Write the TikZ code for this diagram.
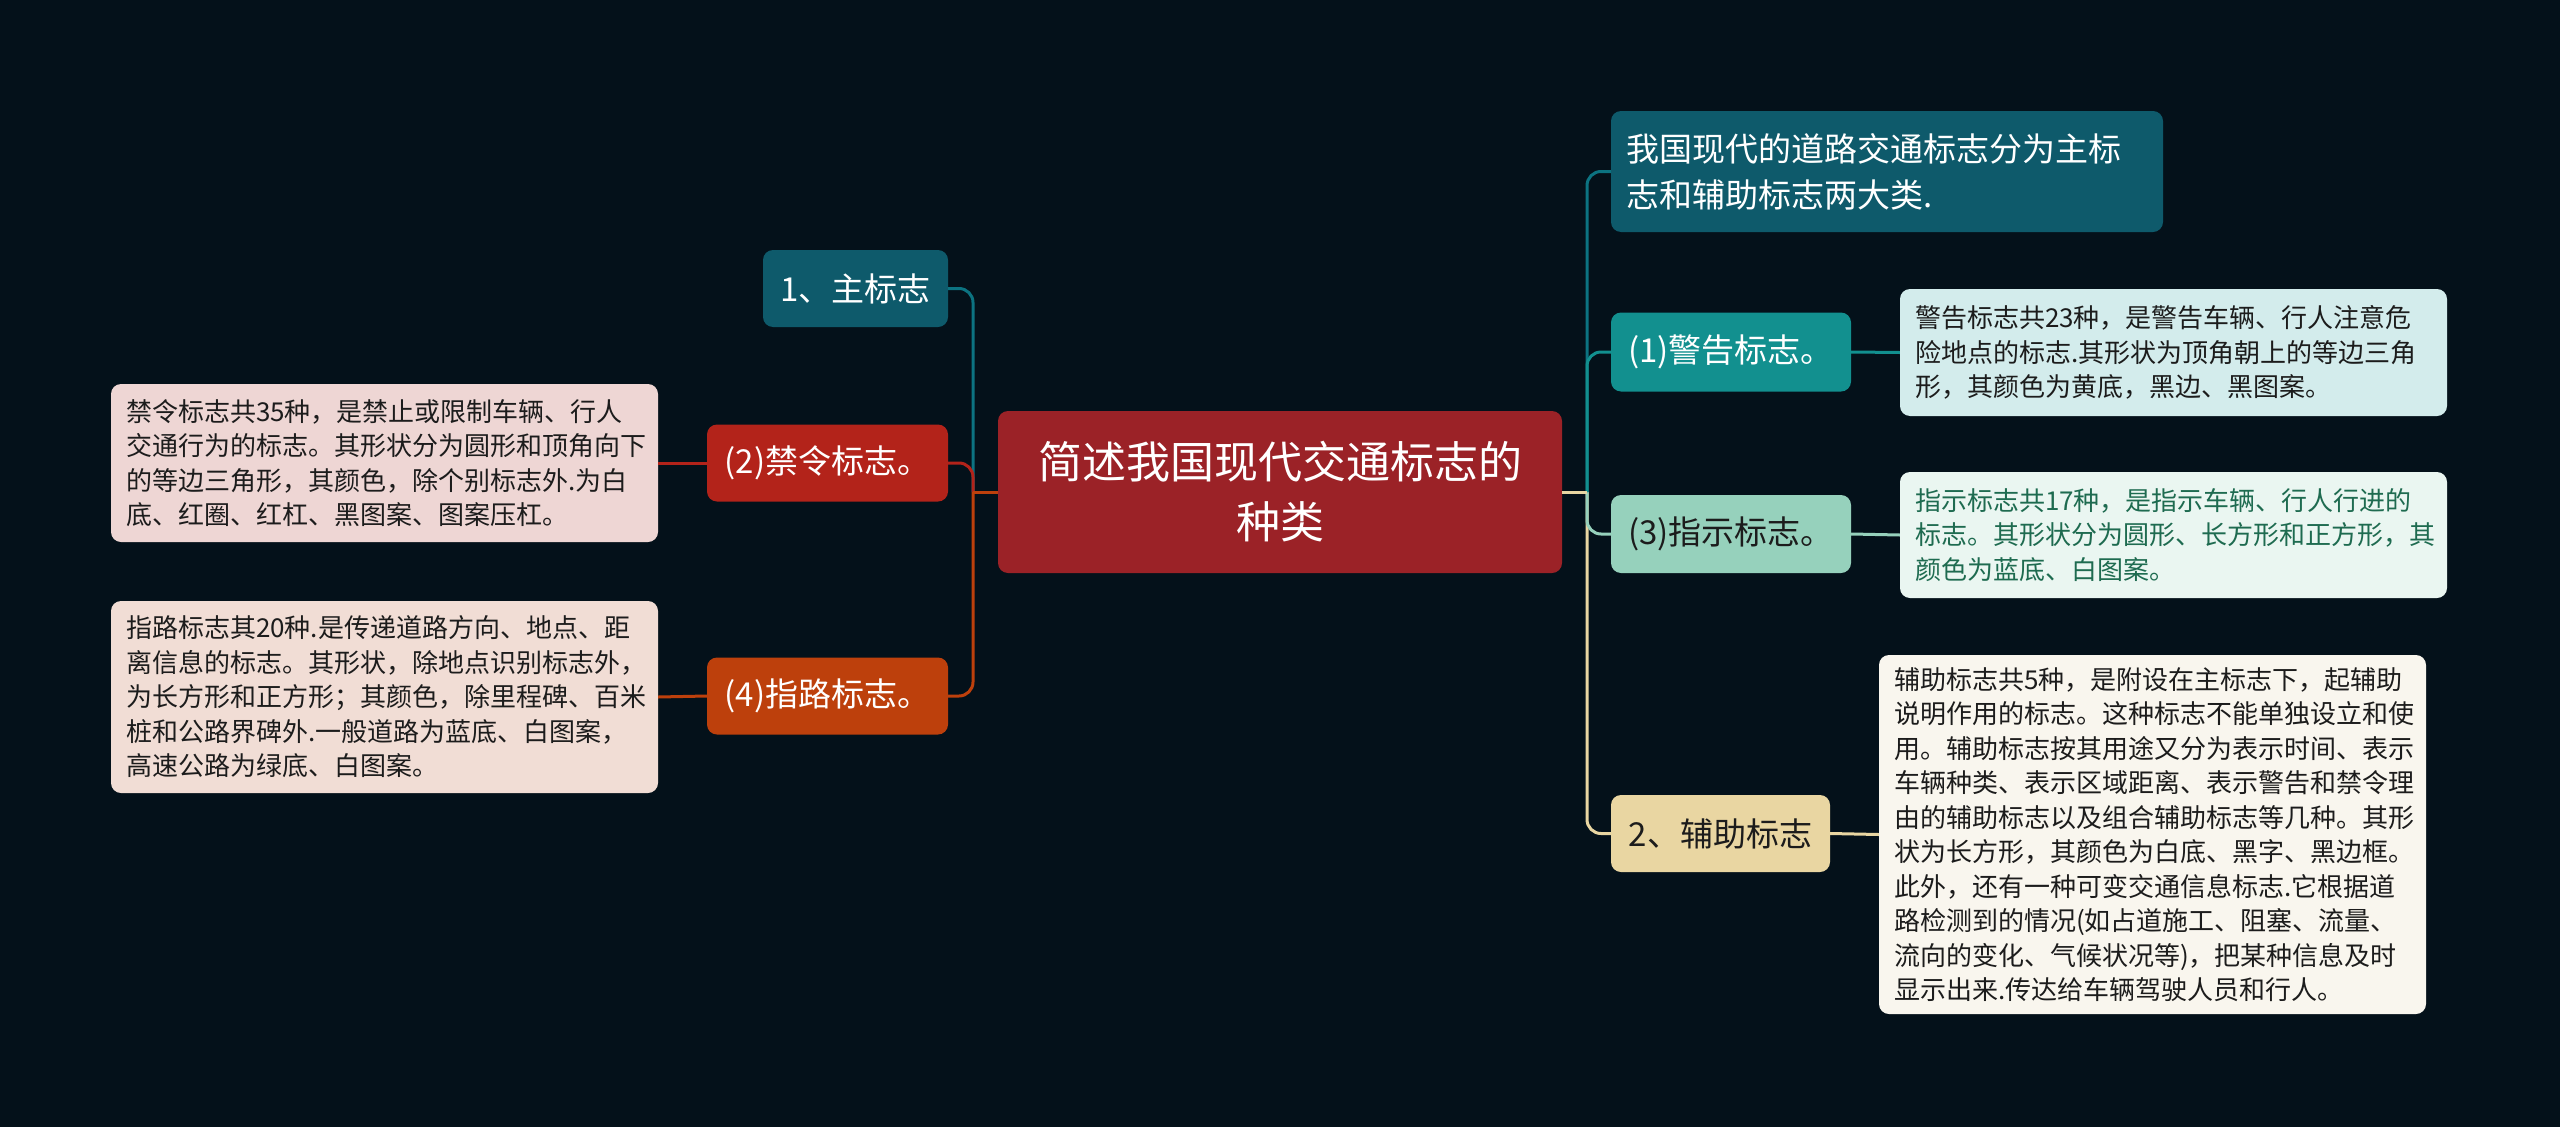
\documentclass[tikz,border=0pt]{standalone}
\usepackage{fontspec}
\setmainfont{Noto Sans CJK SC}
\definecolor{bg}{HTML}{04111A}
\definecolor{cRoot}{HTML}{9B2227}
\definecolor{cMain}{HTML}{0E5A6B}
\definecolor{cJG}{HTML}{12908F}
\definecolor{cZS}{HTML}{96D1BC}
\definecolor{cFZ}{HTML}{E9D6A2}
\definecolor{cJL}{HTML}{B3231A}
\definecolor{cZL}{HTML}{BD400C}
\definecolor{dJL}{HTML}{EED6D4}
\definecolor{dZL}{HTML}{F1DDD5}
\definecolor{dJG}{HTML}{D3ECEC}
\definecolor{dZS}{HTML}{EAF6F1}
\definecolor{dFZ}{HTML}{F9F6EE}
\definecolor{tDark}{HTML}{1C1C1C}
\definecolor{tGreen}{HTML}{1E6B50}
\begin{document}
\begin{tikzpicture}[x=1pt,y=-1pt,
  box/.style={rounded corners=10pt, inner sep=0pt, align=center, text=white},
  lone/.style={box, font=\fontsize{33pt}{46pt}\selectfont, minimum height=77pt},
  det/.style={rounded corners=10pt, font=\fontsize{26pt}{34.5pt}\selectfont, text width=517pt, align=left, inner xsep=15pt, inner ysep=0pt, text=tDark},
  conn/.style={line width=3pt, rounded corners=14pt}]
\fill[bg] (0,0) rectangle (2560,1127);
\useasboundingbox (0,0) rectangle (2560,1127);

% root
\node[box, fill=cRoot, minimum width=564pt, minimum height=162pt, font=\fontsize{44pt}{60pt}\selectfont] (root) at (1280,492) {简述我国现代交通标志的\\种类};

% left level
\node[lone, fill=cMain, minimum width=185pt] (main1) at (855.5,288.5) {1、主标志};
\node[lone, fill=cJL, minimum width=241pt] (jinling) at (827.5,463) {(2)禁令标志。};
\node[lone, fill=cZL, minimum width=241pt] (zhilu) at (827.5,696) {(4)指路标志。};

\node[det, fill=dJL, minimum height=158pt] (jinlingD) at (384.5,463) {禁令标志共35种，是禁止或限制车辆、行人\\交通行为的标志。其形状分为圆形和顶角向下\\的等边三角形，其颜色，除个别标志外.为白\\底、红圈、红杠、黑图案、图案压杠。};
\node[det, fill=dZL, minimum height=192pt] (zhiluD) at (384.5,697) {指路标志其20种.是传递道路方向、地点、距\\离信息的标志。其形状，除地点识别标志外，\\为长方形和正方形；其颜色，除里程碑、百米\\桩和公路界碑外.一般道路为蓝底、白图案，\\高速公路为绿底、白图案。};

% right level
\node[box, fill=cMain, minimum width=552pt, minimum height=121pt, text width=522pt, align=left, font=\fontsize{33pt}{46pt}\selectfont] (woguo) at (1887,171.5) {我国现代的道路交通标志分为主标\\志和辅助标志两大类.};
\node[lone, fill=cJG, minimum width=240pt, minimum height=79pt] (jinggao) at (1731,352) {(1)警告标志。};
\node[lone, fill=cZS, minimum width=240pt, minimum height=78pt, text=tDark] (zhishi) at (1731,534) {(3)指示标志。};
\node[lone, fill=cFZ, minimum width=219pt, text=tDark] (fuzhu) at (1720.5,833.5) {2、辅助标志};

\node[det, fill=dJG, minimum height=127pt] (jinggaoD) at (2173.5,352.5) {警告标志共23种，是警告车辆、行人注意危\\险地点的标志.其形状为顶角朝上的等边三角\\形，其颜色为黄底，黑边、黑图案。};
\node[det, fill=dZS, minimum height=126pt, text=tGreen] (zhishiD) at (2173.5,535) {指示标志共17种，是指示车辆、行人行进的\\标志。其形状分为圆形、长方形和正方形，其\\颜色为蓝底、白图案。};
\node[det, fill=dFZ, minimum height=359pt] (fuzhuD) at (2152.5,834.5) {辅助标志共5种，是附设在主标志下，起辅助\\说明作用的标志。这种标志不能单独设立和使\\用。辅助标志按其用途又分为表示时间、表示\\车辆种类、表示区域距离、表示警告和禁令理\\由的辅助标志以及组合辅助标志等几种。其形\\状为长方形，其颜色为白底、黑字、黑边框。\\此外，还有一种可变交通信息标志.它根据道\\路检测到的情况(如占道施工、阻塞、流量、\\流向的变化、气候状况等)，把某种信息及时\\显示出来.传达给车辆驾驶人员和行人。};

% connectors left
\coordinate (lj) at (973,492);
\draw[conn, draw=cMain!85!cyan] (lj) |- (main1.east);
\draw[conn, draw=cJL] (lj) |- (jinling.east);
\draw[conn, draw=cZL] (lj) |- (zhilu.east);
\draw[conn, draw=cZL] (root.west) -- (lj);
\draw[line width=3pt, draw=cJL] (jinling.west) -- (jinlingD.east);
\draw[line width=3pt, draw=cZL] (zhilu.west) -- (zhiluD.east);

% connectors right
\coordinate (rj) at (1587,492);
\draw[conn, draw=cFZ] (rj) |- (fuzhu.west);
\draw[conn, draw=cZS] (rj) |- (zhishi.west);
\draw[conn, draw=cMain!85!cyan] (rj) |- (woguo.west);
\draw[conn, draw=cJG] (rj) |- (jinggao.west);
\draw[conn, draw=cFZ] (root.east) -- (rj);
\draw[line width=3pt, draw=cJG] (jinggao.east) -- (jinggaoD.west);
\draw[line width=3pt, draw=cZS] (zhishi.east) -- (zhishiD.west);
\draw[line width=3pt, draw=cFZ] (fuzhu.east) -- (fuzhuD.west);
\end{tikzpicture}
\end{document}
